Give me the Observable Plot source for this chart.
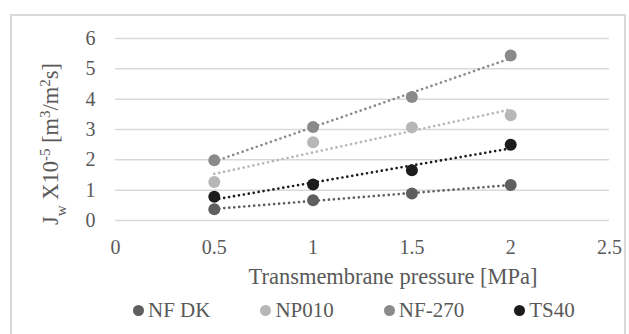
<!DOCTYPE html>
<html>
<head>
<meta charset="utf-8">
<script src="https://cdn.jsdelivr.net/npm/d3@7"></script>
<script src="https://cdn.jsdelivr.net/npm/@observablehq/plot@0.6"></script>
<style>
  html, body { margin: 0; padding: 0; background: #fff; }
  body { width: 629px; height: 334px; position: relative; overflow: hidden; font-family: "Liberation Serif", "DejaVu Serif", serif; }
  #frame { position: absolute; left: 10px; top: 14px; width: 616px; height: 330px; border: 2px solid #d9d9d9; box-sizing: border-box; }
  #chart { position: absolute; left: 0; top: 0; }
  #xtitle { position: absolute; left: 393px; top: 266px; transform: translateX(-50%); font-size: 22.5px; color: #595959; white-space: nowrap; line-height: 1; }
  #legend { position: absolute; left: 133px; top: 300px; display: flex; gap: 50px; font-size: 21px; color: #595959; line-height: 1; }
  #legend .item { display: flex; align-items: center; white-space: nowrap; }
  #legend .sw { width: 11px; height: 11px; border-radius: 50%; margin-right: 4px; }
  svg text { font-family: "Liberation Serif", "DejaVu Serif", serif; }
</style>
</head>
<body>
<div id="frame"></div>
<div id="chart"></div>
<div id="xtitle">Transmembrane pressure [MPa]</div>
<div id="legend"></div>
<script>
// ---- data ----
const pressure = [0.5, 1, 1.5, 2];
const seriesNames = ["NF DK", "NP010", "NF-270", "TS40"];
const nfdk  = [0.37, 0.67, 0.89, 1.17];
const np010 = [1.27, 2.58, 3.07, 3.47];
const nf270 = [1.99, 3.08, 4.07, 5.44];
const ts40  = [0.78, 1.19, 1.66, 2.50];
const seriesColors = ["#5f5f5f", "#b7b7b7", "#8a8a8a", "#1c1c1c"];
const xTicks = [0, 0.5, 1, 1.5, 2, 2.5];
const yTicks = [0, 1, 2, 3, 4, 5, 6];

const valuesBySeries = [nfdk, np010, nf270, ts40];
const data = [];
seriesNames.forEach((name, i) => {
  pressure.forEach((p, j) => data.push({series: name, x: p, y: valuesBySeries[i][j]}));
});

const chart = Plot.plot({
  width: 629,
  height: 296,
  marginLeft: 115,
  marginRight: 20,
  marginTop: 38,
  marginBottom: 76,
  style: { fontFamily: "'Liberation Serif', 'DejaVu Serif', serif", fontSize: "20px", color: "#595959", background: "transparent", overflow: "visible" },
  x: { domain: [0, 2.5], ticks: xTicks, tickFormat: d => String(d), tickSize: 0, tickPadding: 19, label: null },
  y: { domain: [0, 6], ticks: yTicks, tickFormat: d => String(d), tickSize: 0, tickPadding: 20, label: null },
  color: { domain: seriesNames, range: seriesColors },
  marks: [
    Plot.ruleY(yTicks, { stroke: "#d9d9d9", strokeWidth: 1.5, strokeOpacity: 1 }),
    Plot.linearRegressionY(data, { x: "x", y: "y", stroke: "series", ci: 0, strokeWidth: 2.7, strokeDasharray: "0,5", strokeLinecap: "round" }),
    Plot.dot(data, { x: "x", y: "y", fill: "series", r: 6 })
  ]
});
document.getElementById("chart").appendChild(chart);

// y-axis title with subscript / superscripts
const svg = d3.select(chart);
const yt = svg.append("text")
  .attr("transform", "translate(58,144) rotate(-90)")
  .attr("text-anchor", "middle")
  .attr("fill", "#595959")
  .style("font-size", "22.5px");
yt.append("tspan").text("J");
yt.append("tspan").attr("baseline-shift", "sub").style("font-size", "15px").text("w");
yt.append("tspan").text(" X10");
yt.append("tspan").attr("baseline-shift", "super").style("font-size", "15px").text("-5");
yt.append("tspan").text(" [m");
yt.append("tspan").attr("baseline-shift", "super").style("font-size", "15px").text("3");
yt.append("tspan").text("/m");
yt.append("tspan").attr("baseline-shift", "super").style("font-size", "15px").text("2");
yt.append("tspan").text("s]");

// legend
const legend = d3.select("#legend");
seriesNames.forEach((name, i) => {
  const it = legend.append("div").attr("class", "item");
  it.append("div").attr("class", "sw").style("background", seriesColors[i]);
  it.append("span").text(name);
});
</script>
</body>
</html>
